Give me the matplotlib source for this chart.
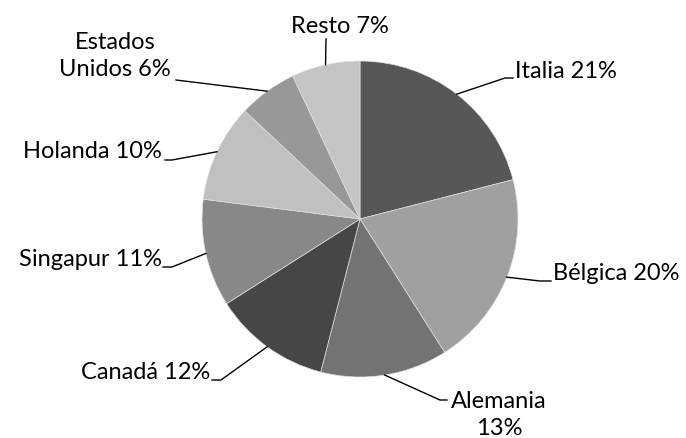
import matplotlib.pyplot as plt
import numpy as np

plt.rcParams['font.family'] = ['Lato', 'DejaVu Sans']

paises = ['Italia', 'Bélgica', 'Alemania', 'Canadá', 'Singapur', 'Holanda', 'Estados\nUnidos', 'Resto']
porcentajes = [21, 20, 13, 12, 11, 10, 6, 7]
colores = ['#575757', '#a0a0a0', '#737373', '#464646', '#888888', '#c0c0c0', '#989898', '#c5c5c5']

W, H = 686, 439
cx, cy, r = 360, 220, 158  # centro en pixeles (y desde arriba)

# etiqueta: (codo, fin de linea, posicion del texto, alineacion)
etiquetas = {
    'Italia':   [(505, 79), (513, 79), (515, 71), 'left'],
    'Bélgica':  [(540, 282), (551, 282), (553, 273), 'left'],
    'Alemania': [(440, 401), (447, 401), (499, 415), 'center'],
    'Canadá':   [(221, 381), (212, 381), (210, 373), 'right'],
    'Singapur': [(172, 268), (163, 268), (162, 260), 'right'],
    'Holanda':  [(172, 161), (165, 161), (162, 152), 'right'],
    'Estados\nUnidos': [(176, 81), (176, 81), (115, 56), 'center'],
    'Resto':    [(326, 40), (326, 40), (340, 26), 'center'],
}

fig = plt.figure(figsize=(6.86, 4.39), dpi=100)
ax = fig.add_axes([0, 0, 1, 1])

wedges, _ = ax.pie(porcentajes, colors=colores, startangle=90, counterclock=False,
                   center=(cx, H - cy), radius=r,
                   wedgeprops=dict(edgecolor='#e0e0e0', linewidth=0.5))
ax.set_xlim(0, W)
ax.set_ylim(0, H)
ax.set_aspect('equal')
ax.axis('off')

for w, nombre, pct in zip(wedges, paises, porcentajes):
    ang = np.deg2rad((w.theta1 + w.theta2) / 2)
    x0 = cx + r * np.cos(ang)
    y0 = (H - cy) + r * np.sin(ang)
    codo, fin, pos, ha = etiquetas[nombre]
    ax.plot([x0, codo[0], fin[0]], [y0, H - codo[1], H - fin[1]], color='black', lw=1)
    if nombre == 'Alemania':
        texto = f'{nombre}\n{pct}%'
    else:
        texto = f'{nombre} {pct}%'
    ax.text(pos[0], H - pos[1], texto, ha=ha, va='center', fontsize=17,
            linespacing=1.3, multialignment='center')

fig.savefig('out.png', dpi=100)
